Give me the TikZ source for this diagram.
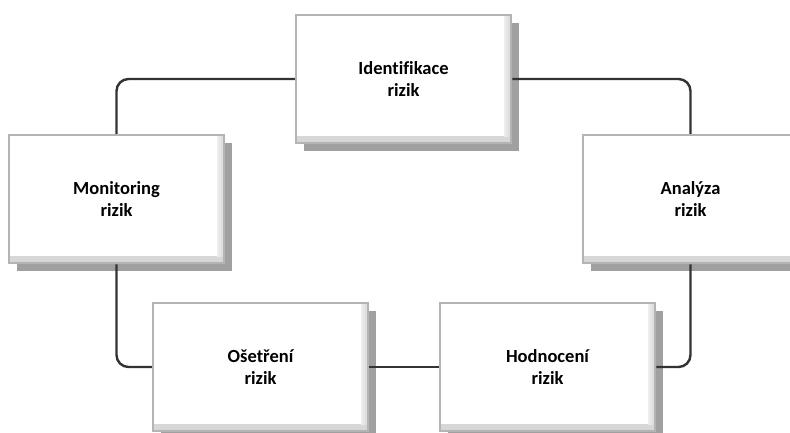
\documentclass[tikz,border=0pt]{standalone}
\usepackage{fontspec}
\setmainfont{Carlito}[Ligatures={NoCommon}]
\usetikzlibrary{shadows}
\definecolor{linegray}{HTML}{333333}
\definecolor{framegray}{HTML}{B4B4B4}
\definecolor{shadegray}{HTML}{D6D6D6}
\definecolor{shadelight}{HTML}{EEEEEE}
\definecolor{shadowgray}{HTML}{A0A0A0}
\tikzset{
  stagebox/.style={
    draw=framegray, line width=2.5pt, fill=white,
    minimum width=215pt, minimum height=128pt, inner sep=0pt,
    align=center, font=\fontsize{18.5}{22.5}\selectfont\bfseries,
    drop shadow={shadow xshift=8pt, shadow yshift=-8pt, fill=shadowgray, opacity=1},
    path picture={
      \shade[top color=shadelight, bottom color=shadegray]
        ([yshift=7pt]path picture bounding box.south west) rectangle (path picture bounding box.south east);
      \shade[left color=shadelight, right color=shadegray]
        ([xshift=-7pt]path picture bounding box.north east) rectangle ([yshift=7pt]path picture bounding box.south east);
    }
  },
  link/.style={draw=linegray, line width=2.4pt, rounded corners=12pt}
}
\begin{document}
\begin{tikzpicture}[x=1pt, y=-1pt]
  \useasboundingbox (0,0) rectangle (790,432);
  % the five stages of the risk management cycle
  \node[stagebox] (ident) at (403.5,79)  {Identifikace\\rizik};
  \node[stagebox] (mon)   at (116.5,199) {Monitoring\\rizik};
  \node[stagebox] (ana)   at (690.5,199) {Analýza\\rizik};
  \node[stagebox] (ose)   at (260.5,367) {Ošetření\\rizik};
  \node[stagebox] (hod)   at (547.5,367) {Hodnocení\\rizik};
  % connectors closing the cycle
  \draw[link] (ident.west) -| (mon.north);
  \draw[link] (ident.east) -| (ana.north);
  \draw[link] (mon.south) |- (ose.west);
  \draw[link] (ose.east) -- (hod.west);
  \draw[link] (hod.east) -| (ana.south);
\end{tikzpicture}
\end{document}
